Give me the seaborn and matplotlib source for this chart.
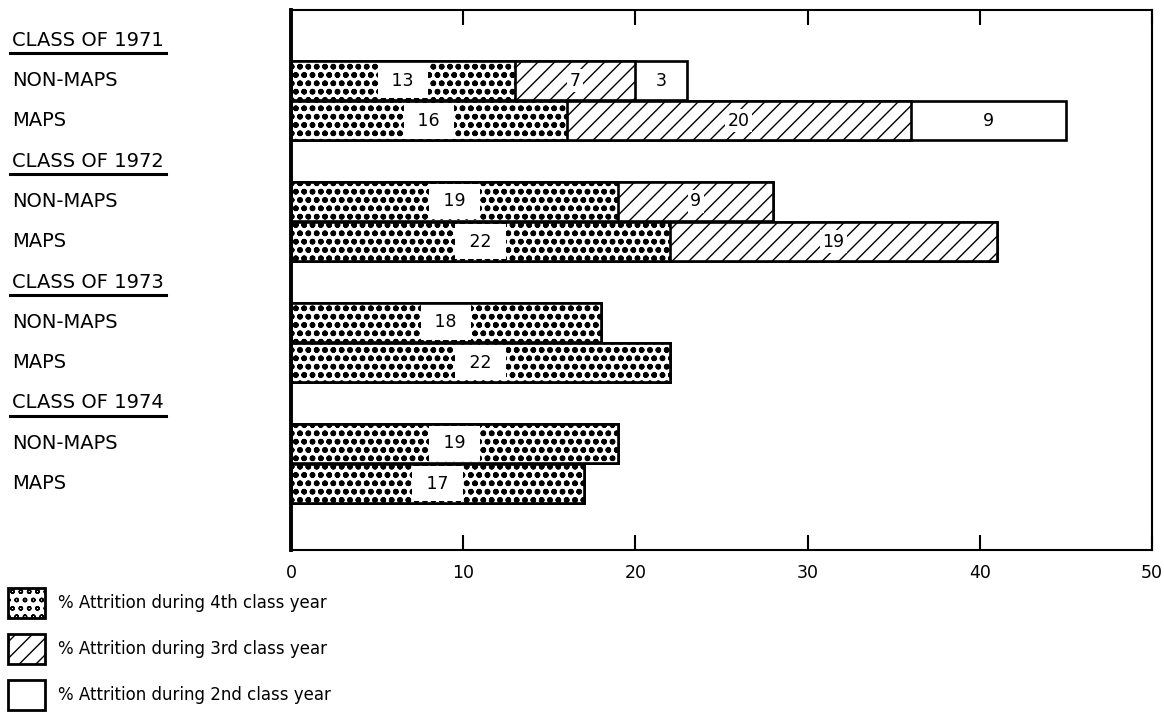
import matplotlib
matplotlib.use('Agg')
import matplotlib.pyplot as plt
import matplotlib.transforms as mtransforms
from matplotlib.patches import Patch
import pandas as pd
import seaborn as sns

# ------------------------------------------------------------------
# data
# ------------------------------------------------------------------
class_years = ['1971', '1972', '1973', '1974']
groups = ['NON-MAPS', 'MAPS']
att_4th = [13, 16, 19, 22, 18, 22, 19, 17]   # % attrition, 4th class year
att_3rd = [7, 20, 9, 19, 0, 0, 0, 0]         # % attrition, 3rd class year
att_2nd = [3, 9, 0, 0, 0, 0, 0, 0]           # % attrition, 2nd class year
x_ticks = [0, 10, 20, 30, 40, 50]
legend_labels = ['% Attrition during 4th class year',
                 '% Attrition during 3rd class year',
                 '% Attrition during 2nd class year']

# one header row per class followed by its two bar rows
row_order, bar_rows = [], []
for yr in class_years:
    row_order.append('CLASS OF ' + yr)
    for g in groups:
        row_order.append(yr + ' ' + g)
        bar_rows.append(yr + ' ' + g)

df = pd.DataFrame({'row': bar_rows, 'y4': att_4th, 'y3': att_3rd, 'y2': att_2nd})
df['upto3'] = df['y4'] + df['y3']
df['total'] = df['upto3'] + df['y2']

plt.rcParams['font.family'] = ['DejaVu Sans']
plt.rcParams['hatch.linewidth'] = 1.0

fig = plt.figure(figsize=(11.64, 7.18), dpi=100)
ax = fig.add_axes([291 / 1164, 1 - 550 / 718, (1152 - 291) / 1164, (550 - 10) / 718])

DOTS = 'oo'
DIAG = '//'
DOT_LW = 1.7


def stipple(patches):
    # heavier strokes turn the little circles into a dark stipple
    for p in patches:
        if hasattr(p, 'set_hatch_linewidth'):
            p.set_hatch_linewidth(DOT_LW)


# stacked bars drawn as cumulative layers, longest first
for col, hatch in [('total', ''), ('upto3', DIAG), ('y4', DOTS)]:
    n_before = len(ax.patches)
    with plt.rc_context({'hatch.linewidth': DOT_LW if hatch == DOTS else 1.0}):
        sns.barplot(data=df, x=col, y='row', order=row_order, orient='h', width=0.97,
                    color='white', saturation=1, edgecolor='black', linewidth=1.9,
                    hatch=hatch, errorbar=None, ax=ax)
    if hatch == DOTS:
        stipple(ax.patches[n_before:])

# segment labels
for _, r in df.iterrows():
    pos = row_order.index(r['row'])
    ax.text(r['y4'] / 2, pos, f' {r["y4"]} ', ha='center', va='center', fontsize=12.5,
            bbox=dict(facecolor='white', edgecolor='none', boxstyle='square,pad=0.5'), zorder=5)
    if r['y3'] > 0:
        ax.text(r['y4'] + r['y3'] / 2, pos, str(r['y3']), ha='center', va='center', fontsize=12.5,
                bbox=dict(facecolor='white', edgecolor='none', boxstyle='square,pad=0.15'), zorder=5)
    if r['y2'] > 0:
        ax.text(r['upto3'] + r['y2'] / 2, pos, str(r['y2']), ha='center', va='center',
                fontsize=12.5, zorder=5)

ax.set_xlim(0, 50)
ax.set_ylim(12.65, -0.75)
ax.set_xticks(x_ticks)
ax.set_xticklabels([str(t) for t in x_ticks], fontsize=12.5)
ax.tick_params(axis='x', direction='in', length=11, width=1.5, top=True, pad=10)
ax.set_yticks([])
ax.set_xlabel('')
ax.set_ylabel('')
for side, sp in ax.spines.items():
    sp.set_visible(True)
    sp.set_linewidth(1.5)
ax.spines['left'].set_linewidth(2.8)

# row labels on the left, class headers underlined
tr = mtransforms.blended_transform_factory(fig.transFigure, ax.transData)
headers = []
for pos, key in enumerate(row_order):
    if key.startswith('CLASS'):
        t = ax.text(12 / 1164, pos, key, transform=tr, ha='left', va='center', fontsize=14)
        headers.append(t)
    else:
        ax.text(12 / 1164, pos, key.split(' ', 1)[1], transform=tr, ha='left', va='center',
                fontsize=14)

fig.canvas.draw()
renderer = fig.canvas.get_renderer()
for t in headers:
    bb = t.get_window_extent(renderer).transformed(fig.transFigure.inverted())
    fig.add_artist(plt.Line2D([bb.x0 - 0.002, bb.x1 + 0.002], [bb.y0 - 0.005, bb.y0 - 0.005],
                              color='black', linewidth=2.2, transform=fig.transFigure))

with plt.rc_context({'hatch.linewidth': DOT_LW}):
    h_dots = Patch(facecolor='white', edgecolor='black', hatch=DOTS, linewidth=2)
stipple([h_dots])
handles = [h_dots,
           Patch(facecolor='white', edgecolor='black', hatch=DIAG, linewidth=2),
           Patch(facecolor='white', edgecolor='black', linewidth=2)]
fig.legend(handles, legend_labels, loc='upper left', bbox_to_anchor=(8 / 1164, 1 - 588 / 718),
           frameon=False, fontsize=12, handlelength=2.2, handleheight=2.4, labelspacing=0.95,
           borderpad=0, borderaxespad=0, handletextpad=0.8)

fig.savefig('out.png', dpi=100)
